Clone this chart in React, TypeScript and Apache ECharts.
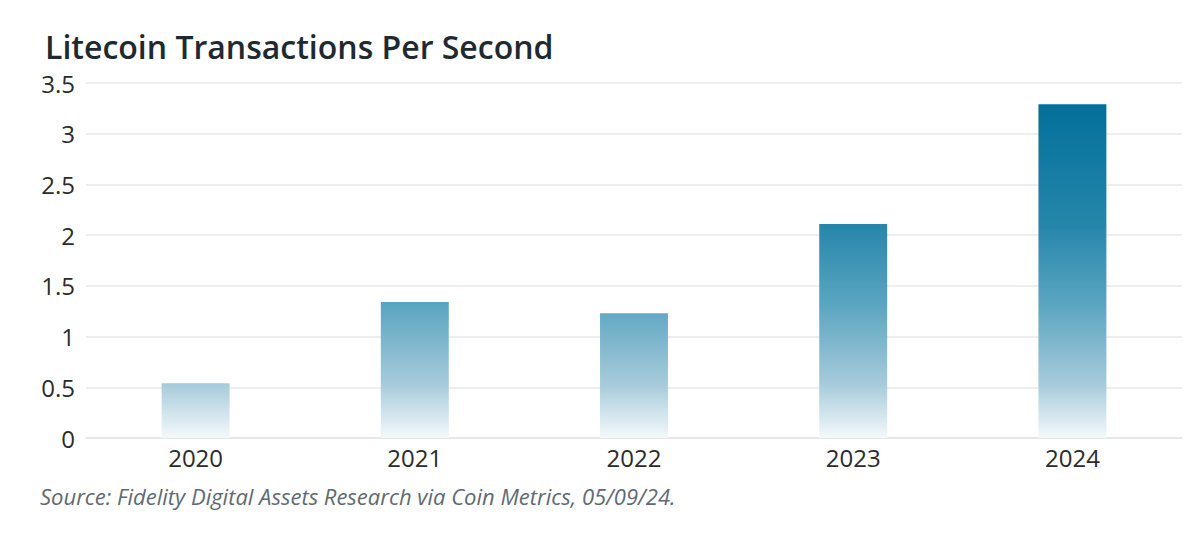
import React, { useEffect, useRef } from "react";
import * as echarts from "echarts";

const categories = ["2020", "2021", "2022", "2023", "2024"];
const tpsValues = [0.54, 1.34, 1.23, 2.11, 3.29];
const titleText = "Litecoin Transactions Per Second";
const sourceText = "Source: Fidelity Digital Assets Research via Coin Metrics, 05/09/24.";

const FONT = "'Open Sans', 'Noto Sans', sans-serif";

export default function App() {
  const ref = useRef<HTMLDivElement>(null);
  useEffect(() => {
    document.body.style.margin = "0";
    if (!ref.current) return;
    const chart = echarts.init(ref.current, null, { renderer: "svg" });
    const gridTop = 83;
    const gridBottom = 107;
    const zeroY = 545 - gridBottom;
    const maxVal = 3.5;
    const topY = zeroY - (zeroY - gridTop) * (Math.max(...tpsValues) / maxVal);
    const gradient = new echarts.graphic.LinearGradient(
      0,
      topY,
      0,
      zeroY,
      [
        { offset: 0, color: "#02709b" },
        { offset: 0.36, color: "#2586aa" },
        { offset: 0.6, color: "#5ba5c1" },
        { offset: 0.84, color: "#a7cbdb" },
        { offset: 1, color: "#f4f9fb" },
      ],
      true
    );
    chart.setOption({
      animation: false,
      backgroundColor: "#ffffff",
      title: {
        text: titleText,
        left: 40,
        top: 25,
        textStyle: { fontFamily: FONT, fontSize: 32, fontWeight: 600, color: "#1e2a2f" },
      },
      graphic: [
        {
          type: "text",
          left: 40,
          top: 485,
          style: {
            text: sourceText,
            fontFamily: FONT,
            fontStyle: "italic",
            fontSize: 22,
            fill: "#5f6a72",
          },
        },
      ],
      grid: { left: 86, right: 18, top: gridTop, bottom: gridBottom, containLabel: false },
      xAxis: {
        type: "category",
        data: categories,
        axisLine: { show: true, lineStyle: { color: "#e3e5e7", width: 1.5 } },
        axisTick: { show: false },
        axisLabel: { fontFamily: FONT, fontSize: 24, color: "#2b2b2b", margin: 7 },
      },
      yAxis: {
        type: "value",
        min: 0,
        max: 3.5,
        interval: 0.5,
        axisLine: { show: false },
        axisTick: { show: false },
        splitLine: { lineStyle: { color: "#e6e8ea", width: 1.5 } },
        axisLabel: { fontFamily: FONT, fontSize: 24, color: "#2b2b2b", margin: 11 },
      },
      series: [
        {
          type: "bar",
          data: tpsValues,
          barWidth: "31%",
          itemStyle: { color: gradient },
        },
      ],
    });
    return () => chart.dispose();
  }, []);
  return <div ref={ref} style={{ width: 1200, height: 545 }} />;
}
